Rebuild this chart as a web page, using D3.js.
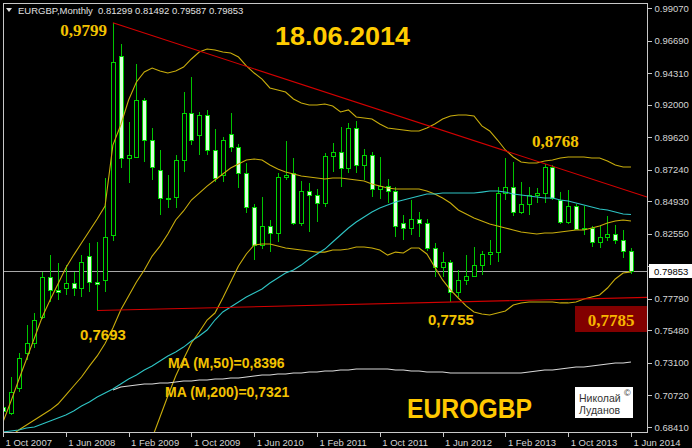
<!DOCTYPE html>
<html>
<head>
<meta charset="utf-8">
<script src="https://cdn.jsdelivr.net/npm/d3@7"></script>
<style>
html, body { margin: 0; padding: 0; background: #000; }
svg { display: block; }
</style>
</head>
<body>
<div id="chart"></div>
<script>
// monthly EURGBP, Oct 2007 .. Jun 2014 (bar index 0..80)
var open  = [0.6990,0.6945,0.7124,0.7380,0.7453,0.7648,0.7941,0.7844,0.7860,0.7897,0.7856,0.8090,0.7904,0.7916,0.8246,0.9558,0.8807,0.8819,0.9234,0.8941,
             0.8722,0.8514,0.8526,0.8795,0.9136,0.8978,0.9124,0.8868,0.8685,0.8983,0.8892,0.8697,0.8453,0.8173,0.8312,0.8258,0.8668,0.8697,0.8331,0.8570,
             0.8539,0.8482,0.8824,0.8856,0.8734,0.9027,0.8758,0.8831,0.8580,0.8605,0.8570,0.8331,0.8295,0.8361,0.8331,0.8148,0.8014,0.8051,0.7831,0.7917,
             0.7948,0.8026,0.8107,0.8120,0.8551,0.8600,0.8417,0.8473,0.8539,0.8550,0.8746,0.8502,0.8343,0.8458,0.8287,0.8300,0.8197,0.8234,0.8253,0.8209,
             0.81299];
var high  = [0.7020,0.7209,0.7380,0.7590,0.7673,0.7977,0.8100,0.8039,0.8027,0.7977,0.8100,0.8185,0.8197,0.8661,0.9799,0.9641,0.9075,0.9495,0.9251,0.9027,
             0.8868,0.8685,0.8831,0.9295,0.9405,0.9148,0.9160,0.9019,0.8965,0.9136,0.8910,0.8775,0.8470,0.8526,0.8356,0.8700,0.8936,0.8807,0.8643,0.8624,
             0.8580,0.8844,0.8922,0.9034,0.9063,0.9082,0.8873,0.8850,0.8819,0.8653,0.8600,0.8392,0.8502,0.8417,0.8361,0.8185,0.8124,0.8060,0.7990,0.8100,
             0.8160,0.8130,0.8209,0.8595,0.8807,0.8782,0.8636,0.8595,0.8590,0.8768,0.8760,0.8563,0.8575,0.8470,0.8458,0.8310,0.8310,0.8385,0.8320,0.8283,
             0.81492];
var low   = [0.6935,0.6929,0.7099,0.7330,0.7416,0.7630,0.7758,0.7770,0.7807,0.7800,0.7795,0.7832,0.7693,0.7832,0.8200,0.8734,0.8624,0.8807,0.8782,0.8648,
             0.8392,0.8441,0.8441,0.8709,0.8905,0.8831,0.8831,0.8636,0.8636,0.8856,0.8588,0.8409,0.8063,0.8140,0.8124,0.8197,0.8650,0.8320,0.8310,0.8270,
             0.8343,0.8453,0.8709,0.8600,0.8700,0.8697,0.8648,0.8526,0.8510,0.8478,0.8234,0.8209,0.8246,0.8230,0.8130,0.7941,0.7941,0.7755,0.7794,0.7880,
             0.7940,0.7950,0.8030,0.8051,0.8500,0.8385,0.8400,0.8392,0.8478,0.8478,0.8500,0.8330,0.8330,0.8280,0.8246,0.8160,0.8150,0.8200,0.8180,0.8075,
             0.79587];
var close = [0.6960,0.7099,0.7344,0.7453,0.7624,0.7941,0.7844,0.7830,0.7897,0.7855,0.8051,0.7904,0.7890,0.8234,0.9514,0.8807,0.8831,0.9234,0.8941,0.8746,
             0.8514,0.8520,0.8795,0.9136,0.8941,0.9124,0.8868,0.8661,0.8941,0.8892,0.8697,0.8453,0.8173,0.8312,0.8258,0.8668,0.8685,0.8331,0.8570,0.8539,
             0.8482,0.8824,0.8856,0.8734,0.9027,0.8758,0.8831,0.8580,0.8605,0.8570,0.8312,0.8295,0.8361,0.8331,0.8148,0.8014,0.8051,0.7831,0.7917,0.7948,
             0.8026,0.8107,0.8120,0.8551,0.8600,0.8417,0.8473,0.8539,0.8550,0.8746,0.8514,0.8343,0.8458,0.8287,0.8300,0.8197,0.8234,0.8253,0.8209,0.8131,
             0.79853];

// bollinger bands (20)
var bbUpper = [0.6878,0.7028,0.7185,0.7339,0.7492,0.7646,0.7770,0.7887,0.8004,0.8099,0.8187,0.8275,0.8363,0.8458,0.8904,0.9051,0.9234,0.9366,0.9439,0.9468,
               0.9446,0.9431,0.9446,0.9475,0.9534,0.9585,0.9607,0.9600,0.9585,0.9578,0.9548,0.9483,0.9431,0.9387,0.9322,0.9307,0.9292,0.9241,0.9212,0.9197,
               0.9197,0.9204,0.9190,0.9146,0.9161,0.9110,0.9102,0.9095,0.9058,0.9029,0.9022,0.9014,0.9007,0.9007,0.9029,0.9058,0.9095,0.9117,0.9124,0.9124,
               0.9117,0.9044,0.9007,0.8941,0.8868,0.8817,0.8780,0.8773,0.8773,0.8787,0.8795,0.8809,0.8817,0.8817,0.8817,0.8809,0.8809,0.8787,0.8758,0.8744,
               0.8744];
var bbMiddle = [0.6739,0.6775,0.6819,0.6856,0.6892,0.6929,0.6965,0.7009,0.7075,0.7141,0.7207,0.7287,0.7361,0.7452,0.7565,0.7697,0.7800,0.7902,0.7990,0.8092,
                0.8165,0.8253,0.8356,0.8422,0.8502,0.8553,0.8604,0.8648,0.8692,0.8736,0.8765,0.8795,0.8802,0.8795,0.8758,0.8729,0.8707,0.8692,0.8678,0.8670,
                0.8663,0.8656,0.8663,0.8663,0.8656,0.8648,0.8641,0.8619,0.8604,0.8590,0.8583,0.8583,0.8583,0.8583,0.8568,0.8546,0.8517,0.8480,0.8429,0.8400,
                0.8371,0.8349,0.8327,0.8312,0.8297,0.8283,0.8268,0.8261,0.8253,0.8261,0.8261,0.8268,0.8275,0.8283,0.8283,0.8297,0.8312,0.8334,0.8349,0.8356,
                0.8349];
var bbLower = [null,null,null,null,null,null,null,null,null,null,null,null,null,null,null,null,null,null,0.6607,0.6761,
               0.6914,0.7068,0.7214,0.7339,0.7456,0.7536,0.7624,0.7675,0.7785,0.7902,0.8019,0.8107,0.8173,0.8180,0.8180,0.8165,0.8151,0.8143,0.8136,0.8129,
               0.8121,0.8121,0.8136,0.8136,0.8143,0.8158,0.8158,0.8151,0.8136,0.8099,0.8121,0.8114,0.8151,0.8151,0.8107,0.8012,0.7917,0.7844,0.7785,0.7727,
               0.7683,0.7668,0.7661,0.7675,0.7690,0.7734,0.7749,0.7756,0.7756,0.7756,0.7756,0.7749,0.7749,0.7756,0.7778,0.7793,0.7807,0.7858,0.7924,0.7968,
               0.7976];

// moving averages
var ma50 = [0.6805,0.6812,0.6819,0.6834,0.6841,0.6863,0.6885,0.6907,0.6929,0.6958,0.6995,0.7024,0.7061,0.7090,0.7119,0.7156,0.7192,0.7222,0.7258,0.7287,
            0.7324,0.7361,0.7390,0.7426,0.7470,0.7507,0.7551,0.7624,0.7683,0.7719,0.7756,0.7792,0.7822,0.7851,0.7895,0.7931,0.7968,0.7990,0.8026,0.8070,
            0.8107,0.8143,0.8195,0.8246,0.8297,0.8341,0.8378,0.8414,0.8443,0.8465,0.8487,0.8502,0.8517,0.8531,0.8546,0.8546,0.8553,0.8553,0.8553,0.8553,
            0.8553,0.8560,0.8568,0.8568,0.8560,0.8546,0.8539,0.8531,0.8524,0.8517,0.8517,0.8502,0.8495,0.8480,0.8465,0.8451,0.8436,0.8429,0.8414,0.8400,
            0.8396];
var ma200 = [null,null,null,null,null,null,null,null,null,null,null,null,null,null,0.7112,0.7134,0.7141,0.7148,0.7156,0.7156,
             0.7163,0.7163,0.7170,0.7178,0.7178,0.7185,0.7185,0.7192,0.7192,0.7200,0.7200,0.7207,0.7214,0.7222,0.7222,0.7229,0.7229,0.7236,0.7236,0.7244,
             0.7244,0.7251,0.7251,0.7258,0.7258,0.7266,0.7266,0.7266,0.7266,0.7266,0.7258,0.7258,0.7251,0.7251,0.7244,0.7244,0.7244,0.7236,0.7236,0.7236,
             0.7236,0.7236,0.7236,0.7236,0.7236,0.7236,0.7236,0.7244,0.7251,0.7258,0.7258,0.7266,0.7273,0.7280,0.7280,0.7287,0.7295,0.7302,0.7309,0.7309,
             0.7317];

// trend lines: [bar index, price]
var trendHigh = [[14, 0.9799], [69, 0.8768]];
var trendLow  = [[12, 0.7693], [57, 0.7755]];

var priceTicks = [0.99070,0.96690,0.94310,0.92000,0.89620,0.87240,0.84930,0.82550,0.80170,0.77790,0.75480,0.73100,0.70720,0.68410];
var dateTickIdx = [0, 8, 16, 24, 32, 40, 48, 56, 64, 72, 80];
var dateLabels = ["1 Oct 2007","1 Jun 2008","1 Feb 2009","1 Oct 2009","1 Jun 2010","1 Feb 2011",
                  "1 Oct 2011","1 Jun 2012","1 Feb 2013","1 Oct 2013","1 Jun 2014"];
var lastPrice = 0.79853;

var W = 692, H = 448;
var plot = { left: 3, right: 647, top: 3, bottom: 432 };
var FONT = "'Liberation Sans', Arial, sans-serif";
var SERIF = "'Liberation Serif', 'Times New Roman', serif";
var GOLD = "#f2c200";

var svg = d3.select("#chart").append("svg")
	.attr("width", W)
	.attr("height", H);

svg.append("rect").attr("width", W).attr("height", H).attr("fill", "#000");

var x = d3.scaleLinear().domain([0, 82.04]).range([plot.left, plot.right]);
var y = d3.scaleLinear().domain([0.68045, 0.99436]).range([plot.bottom, plot.top]);

svg.append("clipPath").attr("id", "plot-clip")
	.append("rect")
	.attr("x", plot.left).attr("y", plot.top)
	.attr("width", plot.right - plot.left).attr("height", plot.bottom - plot.top);

var g = svg.append("g").attr("clip-path", "url(#plot-clip)");

// last price line
g.append("line")
	.attr("x1", plot.left).attr("x2", plot.right)
	.attr("y1", Math.round(y(lastPrice)) + 0.5).attr("y2", Math.round(y(lastPrice)) + 0.5)
	.attr("stroke", "#a8a8a8").attr("stroke-width", 1);

// candles
var bars = d3.range(close.length);
var candle = g.append("g").selectAll("g").data(bars).join("g");

candle.append("line")
	.attr("x1", function (i) { return Math.round(x(i)) + 0.5; })
	.attr("x2", function (i) { return Math.round(x(i)) + 0.5; })
	.attr("y1", function (i) { return Math.round(y(high[i])); })
	.attr("y2", function (i) { return Math.round(y(low[i])); })
	.attr("stroke", "#00c400").attr("stroke-width", 1);

candle.append("rect")
	.attr("x", function (i) { return Math.round(x(i)) - 1.5; })
	.attr("width", 4)
	.attr("y", function (i) { return Math.round(y(Math.max(open[i], close[i]))) + 0.5; })
	.attr("height", function (i) {
		var h = Math.round(y(Math.min(open[i], close[i]))) - Math.round(y(Math.max(open[i], close[i])));
		return Math.max(h, 1);
	})
	.attr("fill", function (i) { return close[i] >= open[i] ? "#000" : "#dcffdc"; })
	.attr("stroke", "#00d400").attr("stroke-width", 1);

// indicators
var line = d3.line()
	.defined(function (d) { return d != null; })
	.x(function (d, i) { return x(i); })
	.y(function (d) { return y(d); });

[[bbUpper, "#c9ad0c"], [bbMiddle, "#c9ad0c"], [bbLower, "#c9ad0c"], [ma200, "#d8d8d8"], [ma50, "#2ec4c4"]]
	.forEach(function (s) {
		g.append("path")
			.datum(s[0])
			.attr("d", line)
			.attr("fill", "none")
			.attr("stroke", s[1])
			.attr("stroke-width", 1.1);
	});

// trend lines, extended to the right edge
[trendHigh, trendLow].forEach(function (t) {
	var slope = (t[1][1] - t[0][1]) / (t[1][0] - t[0][0]);
	var xEnd = x.domain()[1];
	g.append("line")
		.attr("x1", x(t[0][0])).attr("y1", y(t[0][1]))
		.attr("x2", x(xEnd)).attr("y2", y(t[0][1] + slope * (xEnd - t[0][0])))
		.attr("stroke", "#d40000").attr("stroke-width", 1.1);
});

// frame
svg.append("rect")
	.attr("x", plot.left + 0.5).attr("y", plot.top + 0.5)
	.attr("width", plot.right - plot.left).attr("height", plot.bottom - plot.top)
	.attr("fill", "none").attr("stroke", "#c8c8c8");

// price axis
var yAxis = svg.append("g")
	.attr("transform", "translate(" + (plot.right + 0.5) + ",0)")
	.call(d3.axisRight(y).tickValues(priceTicks).tickFormat(d3.format(".5f")).tickSize(4).tickPadding(3));
yAxis.select(".domain").remove();
yAxis.selectAll("line").attr("stroke", "#c8c8c8").attr("shape-rendering", "crispEdges");
yAxis.selectAll("text").attr("fill", "#d4d4d4").attr("font-family", FONT).attr("font-size", "9.5px");

// last price tag (covers the tick label below it, as in the terminal)
var tagY = Math.round(y(lastPrice));
svg.append("rect")
	.attr("x", plot.right + 2).attr("y", tagY - 7)
	.attr("width", W - plot.right - 2).attr("height", 14)
	.attr("fill", "#fff");
svg.append("text")
	.attr("x", plot.right + 7).attr("y", tagY + 3.5)
	.attr("font-family", FONT).attr("font-size", "9.5px").attr("fill", "#000")
	.text(d3.format(".5f")(lastPrice));

// date axis
var xAxis = svg.append("g")
	.attr("transform", "translate(0," + (plot.bottom + 0.5) + ")")
	.call(d3.axisBottom(x).tickValues(dateTickIdx)
		.tickFormat(function (d, i) { return dateLabels[i]; })
		.tickSize(4).tickPadding(3));
xAxis.select(".domain").remove();
xAxis.selectAll("line").attr("stroke", "#c8c8c8").attr("shape-rendering", "crispEdges");
xAxis.selectAll("text")
	.attr("text-anchor", "start").attr("x", 2)
	.attr("fill", "#d4d4d4").attr("font-family", FONT).attr("font-size", "9.5px");

// header
svg.append("path").attr("d", "M6,8 L12,8 L9,12 Z").attr("fill", "#e0e0e0");
svg.append("text")
	.attr("x", 18).attr("y", 14)
	.attr("font-family", FONT).attr("font-size", "9.5px").attr("fill", "#e0e0e0")
	.attr("xml:space", "preserve")
	.text("EURGBP,Monthly  " + [open[80], high[80], low[80], close[80]].map(d3.format(".5f")).join(" "));

// annotations
function label(text, px, py, size, family, anchor, color) {
	return svg.append("text")
		.attr("x", px).attr("y", py)
		.attr("font-family", family).attr("font-weight", "bold")
		.attr("font-size", size + "px")
		.attr("text-anchor", anchor || "start")
		.attr("fill", color || GOLD)
		.text(text);
}

label("0,9799", 107, 36, 17, SERIF, "end");
label("18.06.2014", 275, 45, 26, FONT, "start", "#ffcc00").attr("textLength", 135).attr("lengthAdjust", "spacingAndGlyphs");
label("0,8768", 532, 147, 17, SERIF);
label("0,7693", 80, 340, 15, FONT);
label("0,7755", 428, 325, 15, FONT);
label("MA (M,50)=0,8396", 168, 368, 14, FONT);
label("MA (M,200)=0,7321", 165, 397, 14, FONT);
label("EUROGBP", 407, 418, 27, FONT, "start", "#ffc800").attr("textLength", 125).attr("lengthAdjust", "spacingAndGlyphs");

// support level tag
svg.append("rect")
	.attr("x", 575).attr("y", 306).attr("width", plot.right - 575).attr("height", 26)
	.attr("fill", "#820000");
label("0,7785", 611, 326, 17, SERIF, "middle", "#f7b500");

// author box
svg.append("rect").attr("x", 575).attr("y", 387).attr("width", 58).attr("height", 31).attr("fill", "#fff");
svg.append("text").attr("x", 579).attr("y", 402)
	.attr("font-family", FONT).attr("font-size", "10.5px").attr("fill", "#333").text("Николай");
svg.append("text").attr("x", 579).attr("y", 414)
	.attr("font-family", FONT).attr("font-size", "10.5px").attr("fill", "#333").text("Луданов");
svg.append("text").attr("x", 624).attr("y", 396)
	.attr("font-family", FONT).attr("font-size", "9px").attr("fill", "#333").text("©");
</script>
</body>
</html>
